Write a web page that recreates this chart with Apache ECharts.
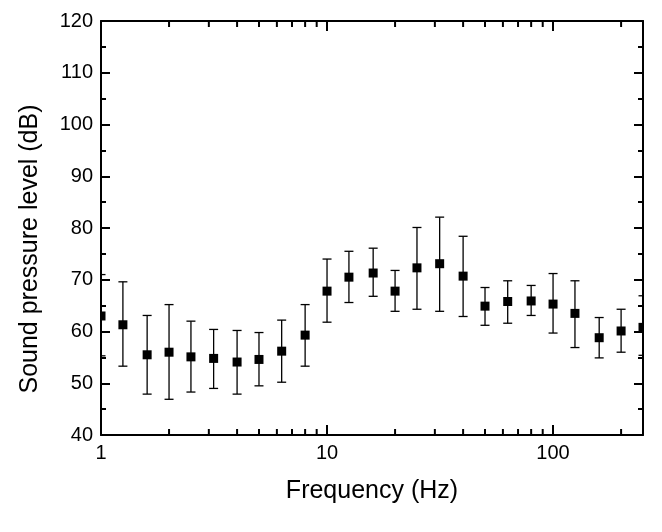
<!DOCTYPE html>
<html>
<head>
<meta charset="utf-8">
<script src="https://cdn.jsdelivr.net/npm/echarts@6/dist/echarts.min.js"></script>
<style>
    html, body { margin: 0; padding: 0; background: #fff; }
    #chart { width: 662px; height: 532px; }
</style>
</head>
<body>
<div id="chart"></div>
<script>
    // 1/3 octave band centre frequencies (Hz)
    var freqs = [1, 1.25, 1.6, 2, 2.5, 3.15, 4, 5, 6.3, 8, 10, 12.5, 16, 20, 25, 31.5, 40, 50, 63, 80, 100, 125, 160, 200, 250];
    // mean sound pressure level (dB)
    var spl = [63.0, 61.3, 55.5, 56.0, 55.1, 54.8, 54.1, 54.6, 56.2, 59.3, 67.8, 70.5, 71.3, 67.8, 72.3, 73.1, 70.7, 64.9, 65.8, 65.9, 65.3, 63.5, 58.8, 60.1, 60.8];
    // error bar ends
    var splUpper = [71.0, 69.6, 63.1, 65.2, 62.0, 60.4, 60.2, 59.8, 62.2, 65.2, 74.0, 75.5, 76.1, 71.8, 80.1, 82.1, 78.4, 68.5, 69.8, 68.9, 71.2, 69.8, 62.7, 64.3, 66.9];
    var splLower = [55.3, 53.3, 47.9, 46.9, 48.3, 49.0, 47.9, 49.5, 50.2, 53.3, 61.8, 65.6, 66.8, 63.9, 64.3, 63.9, 62.9, 61.2, 61.6, 63.1, 59.7, 56.9, 54.9, 56.0, 55.4];
    // minor ticks of the log axis
    var minorFreqs = [2, 3, 4, 5, 6, 7, 8, 9, 20, 30, 40, 50, 60, 70, 80, 90, 200];
    var yTicks = [40, 50, 60, 70, 80, 90, 100, 110, 120];

    var font = 'Liberation Sans, Arial, sans-serif';

    var points = freqs.map(function (f, i) {
        return [f, spl[i], splLower[i], splUpper[i]];
    });

    function xAxisOpt(pos, showLabel) {
        return {
            type: 'log',
            logBase: 10,
            min: 1,
            max: 250,
            position: pos,
            name: showLabel ? 'Frequency (Hz)' : '',
            nameLocation: 'middle',
            nameGap: 44,
            nameTextStyle: { fontFamily: font, fontSize: 25, color: '#000' },
            axisLine: { show: true, onZero: false, lineStyle: { color: '#000', width: 2 } },
            axisTick: { show: true, inside: true, length: 10, lineStyle: { color: '#000', width: 2 } },
            axisLabel: {
                show: showLabel, showMaxLabel: false, margin: 8,
                fontFamily: font, fontSize: 20, color: '#000'
            },
            splitLine: { show: false }
        };
    }

    function yAxisOpt(pos, showLabel) {
        return {
            type: 'value',
            min: yTicks[0],
            max: yTicks[yTicks.length - 1],
            interval: 10,
            position: pos,
            name: showLabel ? 'Sound pressure level (dB)' : '',
            nameLocation: 'middle',
            nameGap: 58,
            // title sits a little below the middle of the plot
            nameTextStyle: { fontFamily: font, fontSize: 25, color: '#000', padding: [0, 42, 0, 0] },
            axisLine: { show: true, onZero: false, lineStyle: { color: '#000', width: 2 } },
            axisTick: { show: true, inside: true, length: 9, lineStyle: { color: '#000', width: 2 } },
            minorTick: { show: true, splitNumber: 2, length: 5, lineStyle: { color: '#000', width: 2 } },
            axisLabel: { show: showLabel, margin: 8, fontFamily: font, fontSize: 20, color: '#000' },
            splitLine: { show: false }
        };
    }

    var chart = echarts.init(document.getElementById('chart'));

    var option = {
        animation: false,
        backgroundColor: '#fff',
        grid: { left: 101, right: 19, top: 21, bottom: 97 },
        xAxis: [xAxisOpt('bottom', true), xAxisOpt('top', false)],
        yAxis: [yAxisOpt('left', true), yAxisOpt('right', false)],
        series: [
            {
                // minor ticks at 2..9 of each decade, top and bottom
                type: 'custom',
                silent: true,
                clip: false,
                data: minorFreqs.map(function (f) { return [f, 40]; }),
                renderItem: function (params, api) {
                    var cs = params.coordSys;
                    var p = api.coord([api.value(0), api.value(1)]);
                    var st = { stroke: '#000', lineWidth: 2 };
                    return {
                        type: 'group',
                        children: [
                            { type: 'line', shape: { x1: p[0], y1: cs.y + cs.height, x2: p[0], y2: cs.y + cs.height - 6 }, style: st },
                            { type: 'line', shape: { x1: p[0], y1: cs.y, x2: p[0], y2: cs.y + 6 }, style: st }
                        ]
                    };
                }
            },
            {
                type: 'custom',
                silent: true,
                clip: true,
                data: points,
                encode: { x: 0, y: [1, 2, 3] },
                renderItem: function (params, api) {
                    var c = api.coord([api.value(0), api.value(1)]);
                    var lo = api.coord([api.value(0), api.value(2)]);
                    var hi = api.coord([api.value(0), api.value(3)]);
                    var cap = 4.5, half = 4.5;
                    var st = { stroke: '#000', lineWidth: 1.3 };
                    return {
                        type: 'group',
                        children: [
                            { type: 'line', shape: { x1: c[0], y1: lo[1], x2: c[0], y2: hi[1] }, style: st },
                            { type: 'line', shape: { x1: c[0] - cap, y1: lo[1], x2: c[0] + cap, y2: lo[1] }, style: st },
                            { type: 'line', shape: { x1: c[0] - cap, y1: hi[1], x2: c[0] + cap, y2: hi[1] }, style: st },
                            { type: 'rect', shape: { x: c[0] - half, y: c[1] - half, width: half * 2, height: half * 2 }, style: { fill: '#000' } }
                        ]
                    };
                }
            }
        ]
    };

    chart.setOption(option);
</script>
</body>
</html>
